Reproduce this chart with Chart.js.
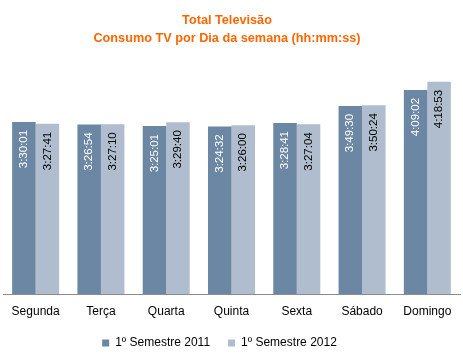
<!DOCTYPE html>
<html>
<head>
<meta charset="utf-8">
<script src="https://cdn.jsdelivr.net/npm/chart.js@4"></script>
<style>
  html, body { margin: 0; padding: 0; background: #ffffff; }
  #wrap { width: 463px; height: 359px; }
</style>
</head>
<body>
<div id="wrap"><canvas id="c" width="463" height="359"></canvas></div>
<script>
const categories = ["Segunda", "Terça", "Quarta", "Quinta", "Sexta", "Sábado", "Domingo"];
const seriesNames = ["1º Semestre 2011", "1º Semestre 2012"];
const times2011 = ["3:30:01", "3:26:54", "3:25:01", "3:24:32", "3:28:41", "3:49:30", "4:09:02"];
const times2012 = ["3:27:41", "3:27:10", "3:29:40", "3:26:00", "3:27:04", "3:50:24", "4:18:53"];
const axisMaxTime = "4:48:00";

function toSeconds(t) {
  const p = t.split(":").map(Number);
  return p[0] * 3600 + p[1] * 60 + p[2];
}

const darkColor = "#6B87A3";
const lightColor = "#B0BDCE";

const valueLabels = {
  id: "valueLabels",
  afterDatasetsDraw(chart) {
    const ctx = chart.ctx;
    const labelSets = [times2011, times2012];
    const colors = ["#ffffff", "#000000"];
    chart.data.datasets.forEach((ds, di) => {
      const meta = chart.getDatasetMeta(di);
      meta.data.forEach((bar, i) => {
        ctx.save();
        ctx.translate(bar.x, bar.y + 8);
        ctx.rotate(-Math.PI / 2);
        ctx.font = "11.5px 'Liberation Sans', Arial, sans-serif";
        ctx.fillStyle = colors[di];
        ctx.textAlign = "right";
        ctx.textBaseline = "middle";
        ctx.fillText(labelSets[di][i], 0, 0);
        ctx.restore();
      });
    });
  }
};

const shiftBlocks = {
  id: "shiftBlocks",
  afterLayout(chart) {
    const t = chart.titleBlock;
    if (t) { t.left -= 4.5; t.right -= 4.5; }
    const l = chart.legend;
    if (l) { l.left -= 12; l.right -= 12; }
  }
};

new Chart(document.getElementById("c"), {
  type: "bar",
  data: {
    labels: categories,
    datasets: [
      { label: seriesNames[0], data: times2011.map(toSeconds), backgroundColor: darkColor,
        barPercentage: 1.0, categoryPercentage: 0.72 },
      { label: seriesNames[1], data: times2012.map(toSeconds), backgroundColor: lightColor,
        barPercentage: 1.0, categoryPercentage: 0.72 }
    ]
  },
  options: {
    responsive: false,
    animation: false,
    devicePixelRatio: 1,
    layout: { padding: { left: 3, right: 3, top: 0, bottom: 0 } },
    scales: {
      x: {
        grid: { display: false, drawTicks: false },
        border: { display: true, color: "#8c8c8c", width: 1 },
        ticks: { color: "#000000", padding: 10.5, font: { family: "'Liberation Sans', Arial, sans-serif", size: 12 } },
        afterFit(scale) { scale.height = 25; }
      },
      y: {
        display: false,
        min: 0,
        max: toSeconds(axisMaxTime)
      }
    },
    plugins: {
      title: {
        display: true,
        text: ["Total Televisão", "Consumo TV por Dia da semana (hh:mm:ss)"],
        color: "#FF6600",
        font: { family: "'Liberation Sans', Arial, sans-serif", size: 12.7, weight: "bold", lineHeight: 1.417 },
        padding: { top: 11.5, bottom: 10.5 }
      },
      legend: {
        display: true,
        position: "bottom",
        labels: {
          color: "#000000",
          boxWidth: 7,
          boxHeight: 7,
          padding: 18,
          font: { family: "'Liberation Sans', Arial, sans-serif", size: 12 }
        }
      },
      tooltip: { enabled: false }
    }
  },
  plugins: [valueLabels, shiftBlocks]
});
</script>
</body>
</html>
